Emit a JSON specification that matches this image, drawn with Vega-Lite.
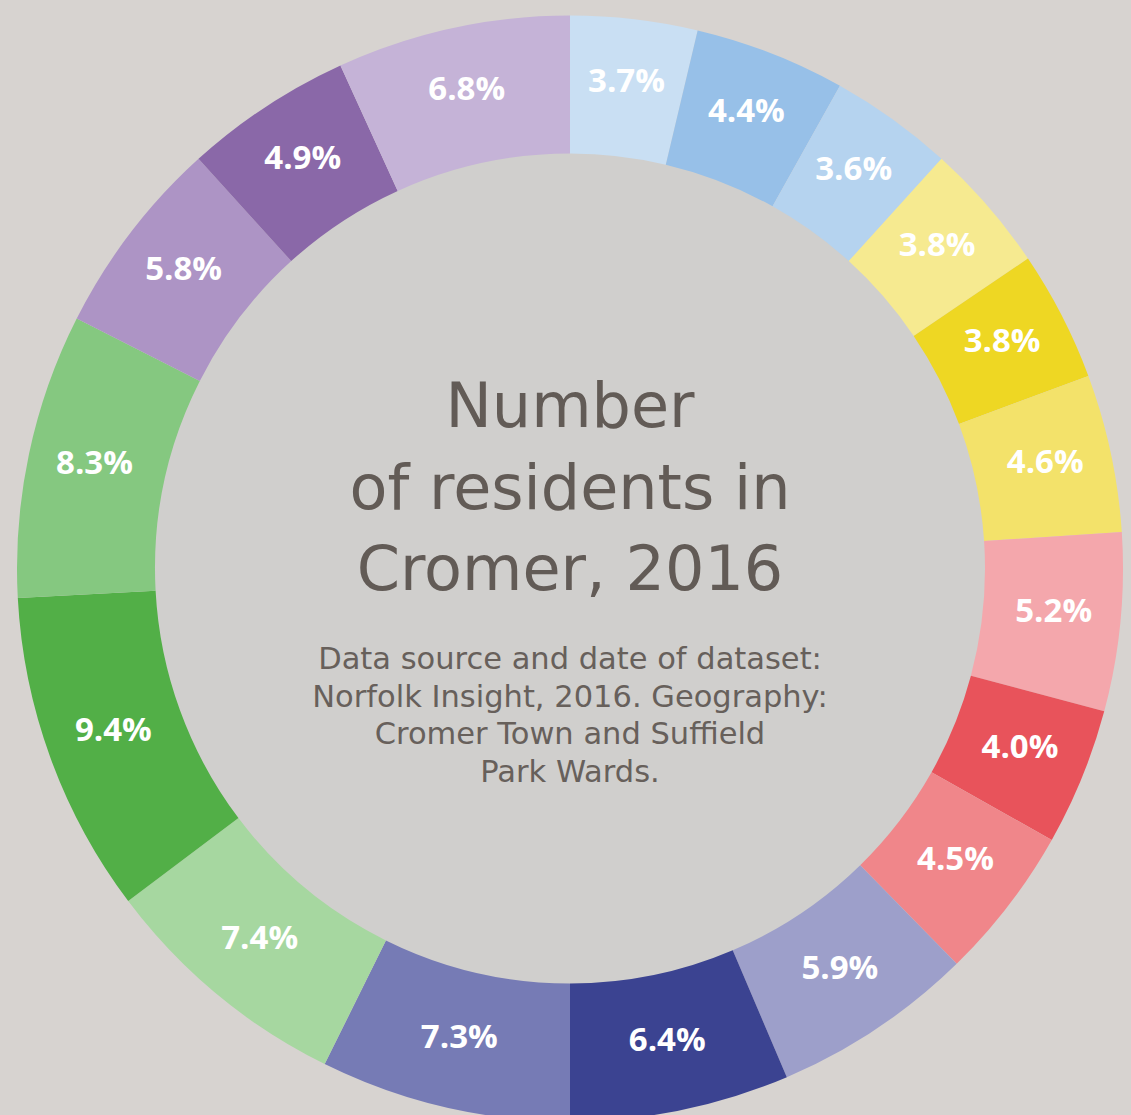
{
  "$schema": "https://vega.github.io/schema/vega-lite/v6.json",
  "autosize": {"type": "none"},
  "width": 1122,
  "height": 1095,
  "padding": {"left": 9, "top": 21, "right": 0, "bottom": 0},
  "background": "#d7d3d0",
  "config": {"view": {"stroke": null}},
  "data": {
    "values": [
      {"id": 1, "share": 3.7, "label": "3.7%"},
      {"id": 2, "share": 4.4, "label": "4.4%"},
      {"id": 3, "share": 3.6, "label": "3.6%"},
      {"id": 4, "share": 3.8, "label": "3.8%"},
      {"id": 5, "share": 3.8, "label": "3.8%"},
      {"id": 6, "share": 4.6, "label": "4.6%"},
      {"id": 7, "share": 5.2, "label": "5.2%"},
      {"id": 8, "share": 4.0, "label": "4.0%"},
      {"id": 9, "share": 4.5, "label": "4.5%"},
      {"id": 10, "share": 5.9, "label": "5.9%"},
      {"id": 11, "share": 6.4, "label": "6.4%"},
      {"id": 12, "share": 7.3, "label": "7.3%"},
      {"id": 13, "share": 7.4, "label": "7.4%"},
      {"id": 14, "share": 9.4, "label": "9.4%"},
      {"id": 15, "share": 8.3, "label": "8.3%"},
      {"id": 16, "share": 5.8, "label": "5.8%"},
      {"id": 17, "share": 4.9, "label": "4.9%"},
      {"id": 18, "share": 6.8, "label": "6.8%"}
    ]
  },
  "resolve": {"scale": {"theta": "independent"}},
  "layer": [
    {
      "data": {"values": [{"whole": 1}]},
      "mark": {"type": "arc", "radius": 416, "color": "#d0cfcd"},
      "encoding": {"theta": {"field": "whole", "type": "quantitative"}}
    },
    {
      "mark": {"type": "arc", "radius": 553, "radius2": 415},
      "encoding": {
        "theta": {"field": "share", "type": "quantitative", "stack": true},
        "order": {"field": "id", "type": "quantitative"},
        "color": {
          "field": "id",
          "type": "nominal",
          "legend": null,
          "scale": {
            "domain": [1,2,3,4,5,6,7,8,9,10,11,12,13,14,15,16,17,18],
            "range": ["#c9dff3","#97c0e8","#b5d3ef","#f6ea90","#eed723","#f3e26a","#f4a7ac","#e8535b","#f0868a","#9d9fca","#3b4391","#767bb5","#a6d7a0","#52af47","#85c880","#ad94c5","#8a68a8","#c5b3d7"]
          }
        }
      }
    },
    {
      "mark": {"type": "text", "radius": 486, "dy": -4, "font": "Open Sans", "fontWeight": "bold", "fontSize": 33, "color": "#ffffff", "align": "center", "baseline": "middle"},
      "encoding": {
        "theta": {"field": "share", "type": "quantitative", "stack": true},
        "order": {"field": "id", "type": "quantitative"},
        "text": {"field": "label", "type": "nominal"}
      }
    },
    {
      "data": {"values": [{"t": "Number\nof residents in\nCromer, 2016"}]},
      "mark": {"type": "text", "lineBreak": "\n", "lineHeight": 81.5, "font": "DejaVu Sans", "fontSize": 62, "color": "#625b56", "align": "center", "baseline": "alphabetic", "dy": -141.5},
      "encoding": {"text": {"field": "t", "type": "nominal"}}
    },
    {
      "data": {"values": [{"t": "Data source and date of dataset:\nNorfolk Insight, 2016. Geography:\nCromer Town and Suffield\nPark Wards."}]},
      "mark": {"type": "text", "lineBreak": "\n", "lineHeight": 37.7, "font": "DejaVu Sans", "fontSize": 30.5, "color": "#67605b", "align": "center", "baseline": "alphabetic", "dy": 100.5},
      "encoding": {"text": {"field": "t", "type": "nominal"}}
    }
  ]
}
